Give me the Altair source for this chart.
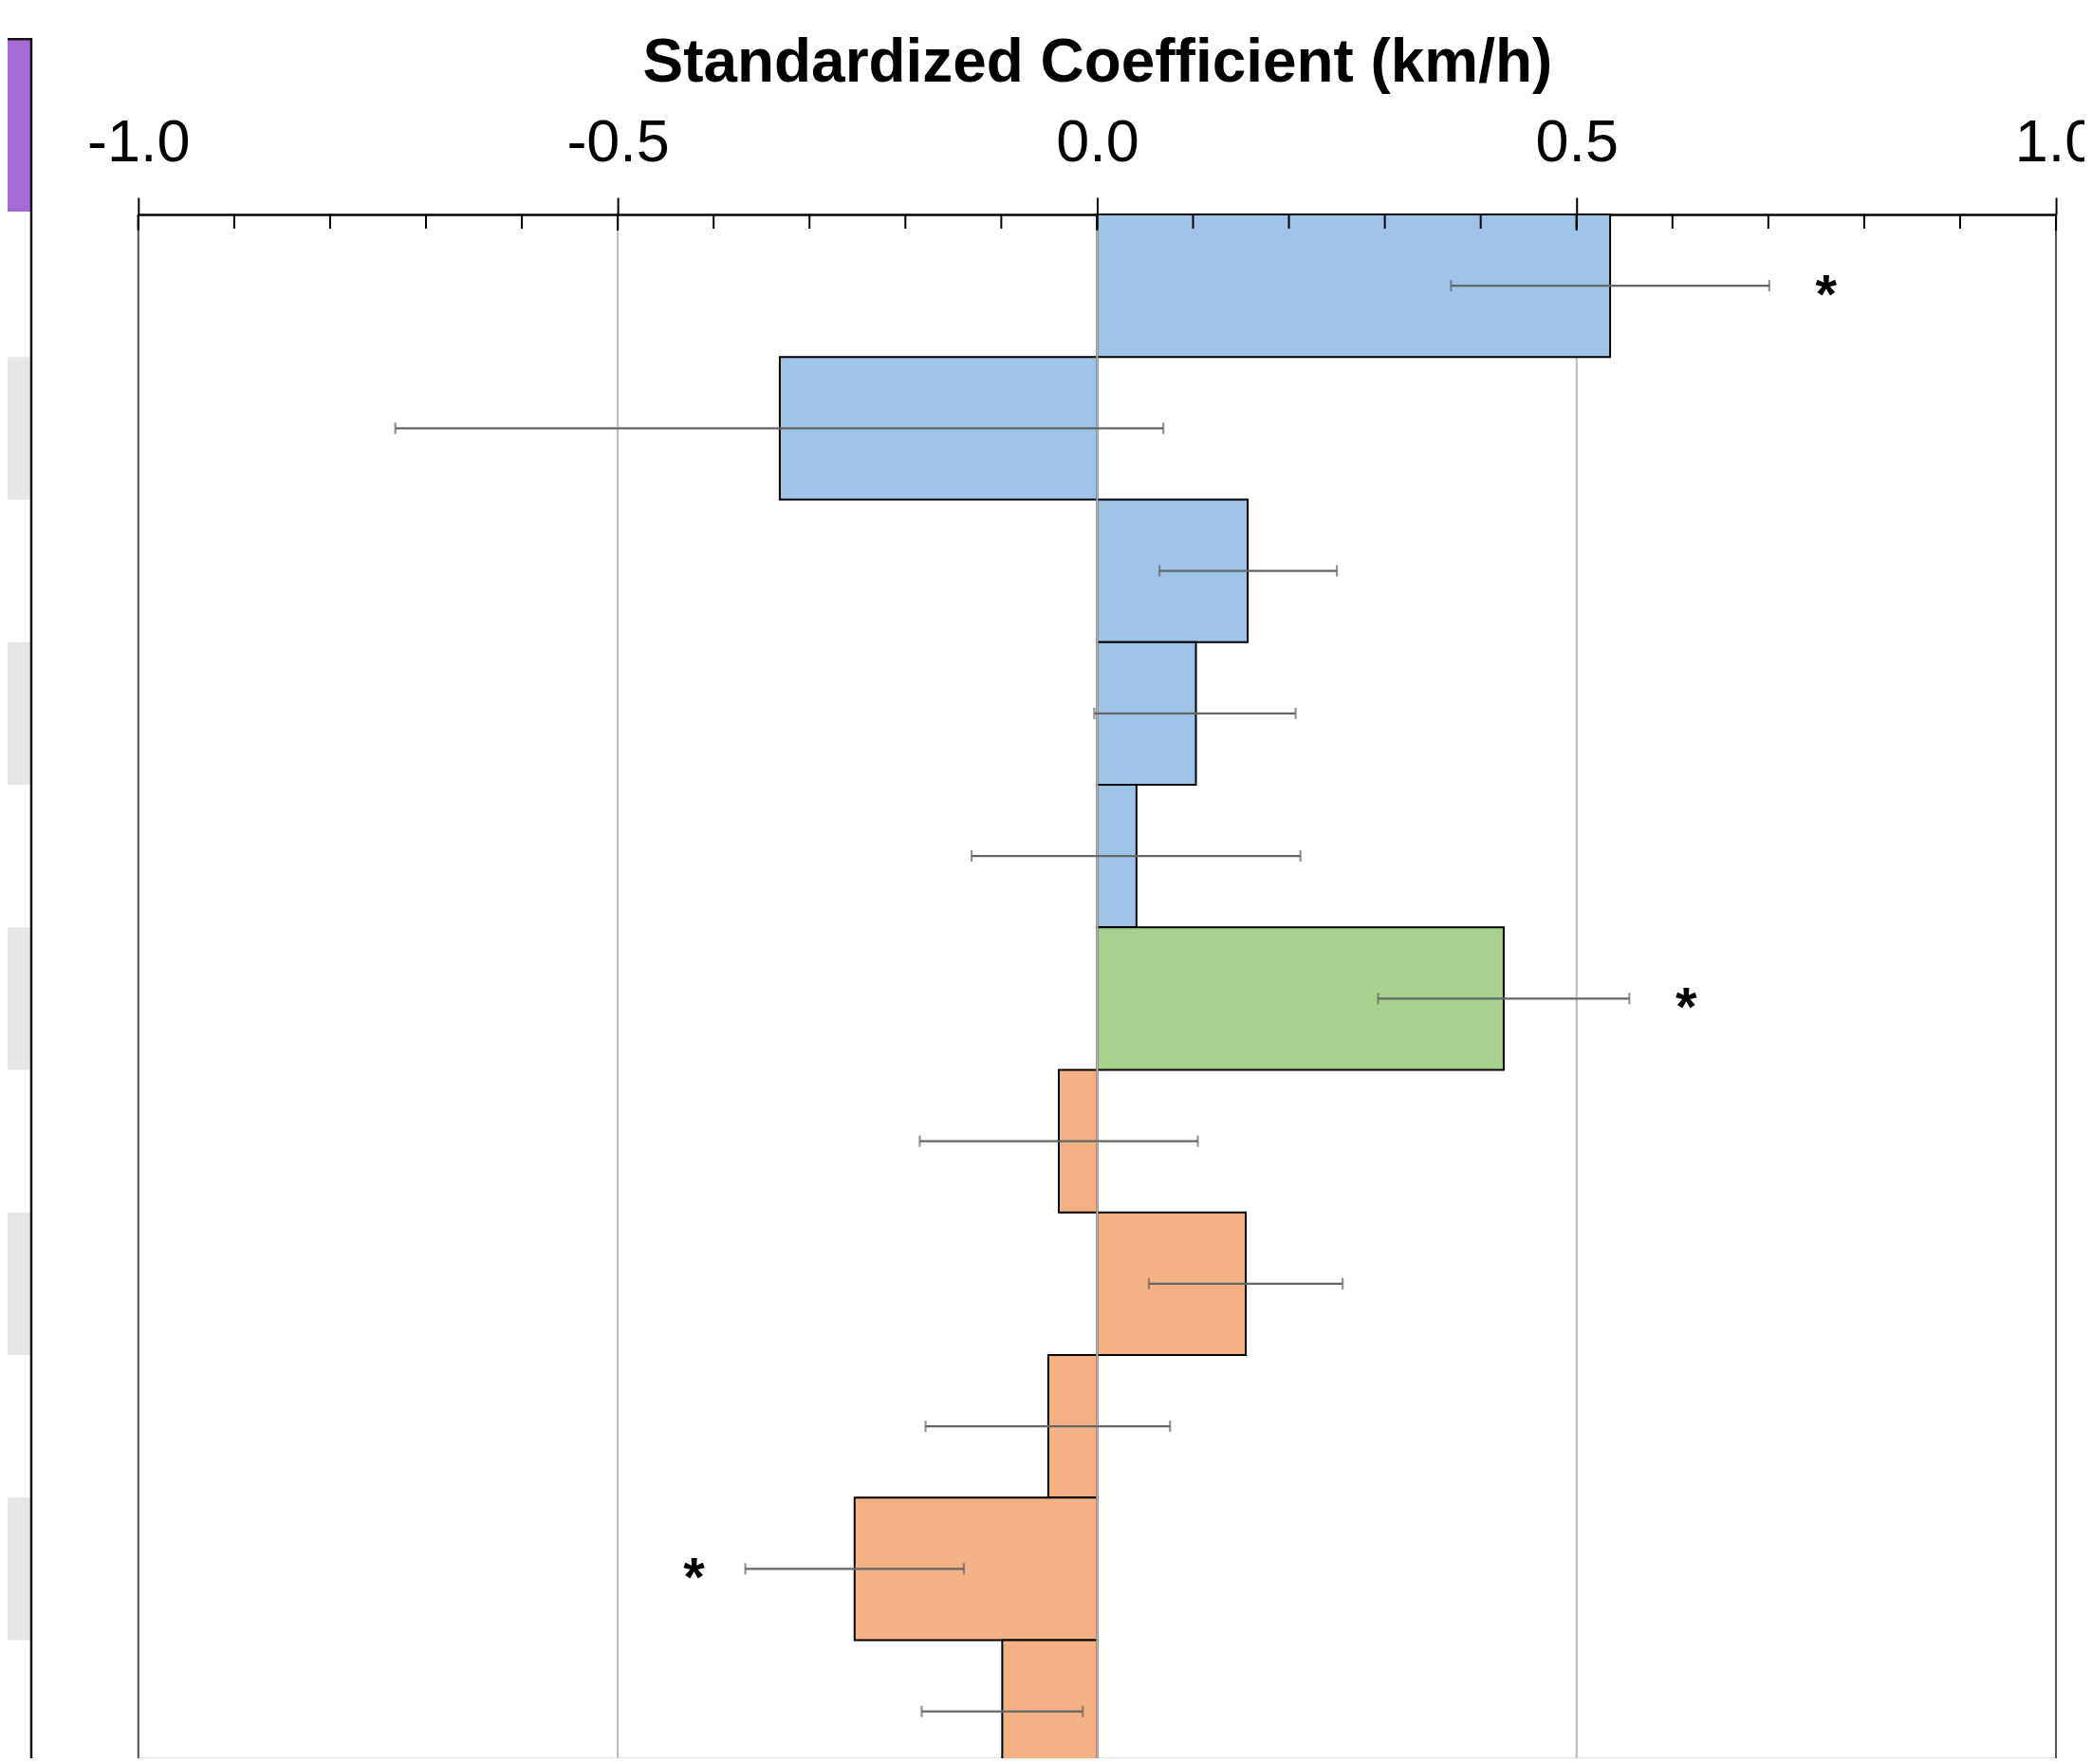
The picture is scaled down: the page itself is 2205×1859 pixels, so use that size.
import altair as alt
import pandas as pd

# ---- data ----
rows = list(range(1, 12))
groups = ["A", "A", "A", "A", "A", "B", "C", "C", "C", "C", "C"]
coef = [0.535, -0.331, 0.157, 0.103, 0.041, 0.424, -0.040, 0.155, -0.051, -0.253, -0.099]
ci_lo = [0.369, -0.732, 0.065, -0.003, -0.131, 0.293, -0.185, 0.054, -0.179, -0.367, -0.183]
ci_hi = [0.701, 0.069, 0.250, 0.207, 0.212, 0.555, 0.105, 0.256, 0.076, -0.139, -0.015]
sig = ["*", "", "", "", "", "*", "", "", "", "*", ""]
major_ticks = [-1.0, -0.5, 0.0, 0.5, 1.0]
minor_ticks = [round(-1.0 + 0.1 * i, 1) for i in range(21)]
edge_lines = [-1.0, 1.0]

group_colors = {"A": "#9dc3e6", "B": "#a9d18e", "C": "#f4b183"}

W = 2024          # plot width
H = 1628          # visible plot height (page is cut here)
BAND_H = 1655     # full extent of the 11 rows

df = pd.DataFrame({
    "row": rows, "group": groups, "coef": coef,
    "lo": ci_lo, "hi": ci_hi, "sig": sig,
})
df["stripe"] = [i % 2 == 1 for i in range(len(rows))]

xscale = alt.Scale(domain=[-1, 1], nice=False, zero=False)
yscale = alt.Scale(domain=rows, paddingInner=0, paddingOuter=0, range=[0, BAND_H])

base = alt.Chart(df)

xaxis = alt.Axis(
    orient="top", values=major_ticks, title="Standardized Coefficient (km/h)",
    labelExpr="datum.value < 0 ? '-' + format(abs(datum.value), '.1f') : format(datum.value, '.1f')",
    labelFont="Liberation Sans", labelFontSize=63, labelColor="black",
    labelPadding=26, labelFlush=False, labelOverlap=False,
    titleFont="Liberation Sans", titleFontSize=64, titleFontWeight="bold",
    titleColor="black", titlePadding=21,
    domainColor="black", domainWidth=2.5,
    tickColor="black", tickWidth=2, tickSize=18,
    grid=False,
)

stripes = base.transform_filter("datum.stripe").mark_rect(color="#e6e6e6").encode(
    y=alt.Y("row:O", scale=yscale, axis=None),
    x=alt.value(-138), x2=alt.value(-114),
)

one = alt.Chart(pd.DataFrame({"k": [0]}))
header = one.mark_rect(color="#a66bd2").encode(
    x=alt.value(-138), x2=alt.value(-114), y=alt.value(-185), y2=alt.value(-3)
)
header_top = one.mark_rule(color="#111111", strokeWidth=2.5).encode(
    x=alt.value(-138), x2=alt.value(-112), y=alt.value(-185)
)
table_edge = one.mark_rule(color="#111111", strokeWidth=2.5).encode(
    x=alt.value(-113), y=alt.value(-186), y2=alt.value(BAND_H)
)

grid = alt.Chart(pd.DataFrame({"v": major_ticks})).mark_rule(
    color="#bbbbbb", strokeWidth=2).encode(
    x=alt.X("v:Q", scale=xscale, axis=xaxis), y=alt.value(0), y2=alt.value(BAND_H)
)

bars = base.mark_bar(stroke="black", strokeWidth=2).encode(
    y=alt.Y("row:O", scale=yscale, axis=None),
    x=alt.X("coef:Q", scale=xscale),
    x2=alt.datum(0),
    color=alt.Color("group:N", scale=alt.Scale(domain=list(group_colors),
                                              range=list(group_colors.values())), legend=None),
)

zero_line = alt.Chart(pd.DataFrame({"v": [0.0]})).mark_rule(
    color="#bbbbbb", strokeWidth=2).encode(
    x=alt.X("v:Q", scale=xscale), y=alt.value(0), y2=alt.value(BAND_H)
)

edges = alt.Chart(pd.DataFrame({"v": edge_lines})).mark_rule(
    color="#555555", strokeWidth=2).encode(
    x=alt.X("v:Q", scale=xscale), y=alt.value(0), y2=alt.value(BAND_H)
)

minor = alt.Chart(pd.DataFrame({"v": minor_ticks})).mark_rule(
    color="black", strokeWidth=2).encode(
    x=alt.X("v:Q", scale=xscale), y=alt.value(0), y2=alt.value(15)
)
major = alt.Chart(pd.DataFrame({"v": major_ticks})).mark_rule(
    color="black", strokeWidth=2).encode(
    x=alt.X("v:Q", scale=xscale), y=alt.value(0), y2=alt.value(17)
)

err = base.mark_rule(color="#666666", strokeWidth=2.2).encode(
    y=alt.Y("row:O", scale=yscale, axis=None),
    x=alt.X("lo:Q", scale=xscale), x2="hi:Q",
)
cap_lo = base.mark_tick(color="#666666", thickness=2.2, size=12, orient="vertical").encode(
    y=alt.Y("row:O", scale=yscale, axis=None),
    x=alt.X("lo:Q", scale=xscale),
)
cap_hi = base.mark_tick(color="#666666", thickness=2.2, size=12, orient="vertical").encode(
    y=alt.Y("row:O", scale=yscale, axis=None),
    x=alt.X("hi:Q", scale=xscale),
)

star_style = dict(font="Liberation Sans", fontSize=58, fontWeight="bold",
                  color="black", align="center", baseline="middle", dy=12)
stars_pos = base.transform_filter("datum.sig != '' && datum.coef > 0").mark_text(
    dx=60, **star_style).encode(
    y=alt.Y("row:O", scale=yscale, axis=None),
    x=alt.X("hi:Q", scale=xscale), text="sig:N",
)
stars_neg = base.transform_filter("datum.sig != '' && datum.coef < 0").mark_text(
    dx=-54, **star_style).encode(
    y=alt.Y("row:O", scale=yscale, axis=None),
    x=alt.X("lo:Q", scale=xscale), text="sig:N",
)

chart = alt.layer(
    stripes, header, header_top, table_edge, grid, bars, zero_line, edges,
    minor, major, err, cap_lo, cap_hi, stars_pos, stars_neg,
).properties(
    width=W, height=H,
    autosize=alt.AutoSizeParams(type="none"),
    padding={"left": 138, "top": 217, "right": 30, "bottom": 0},
).configure_view(stroke=None).configure(background="white")

chart.save("out.html", embed_options={"renderer": "svg", "actions": False})
